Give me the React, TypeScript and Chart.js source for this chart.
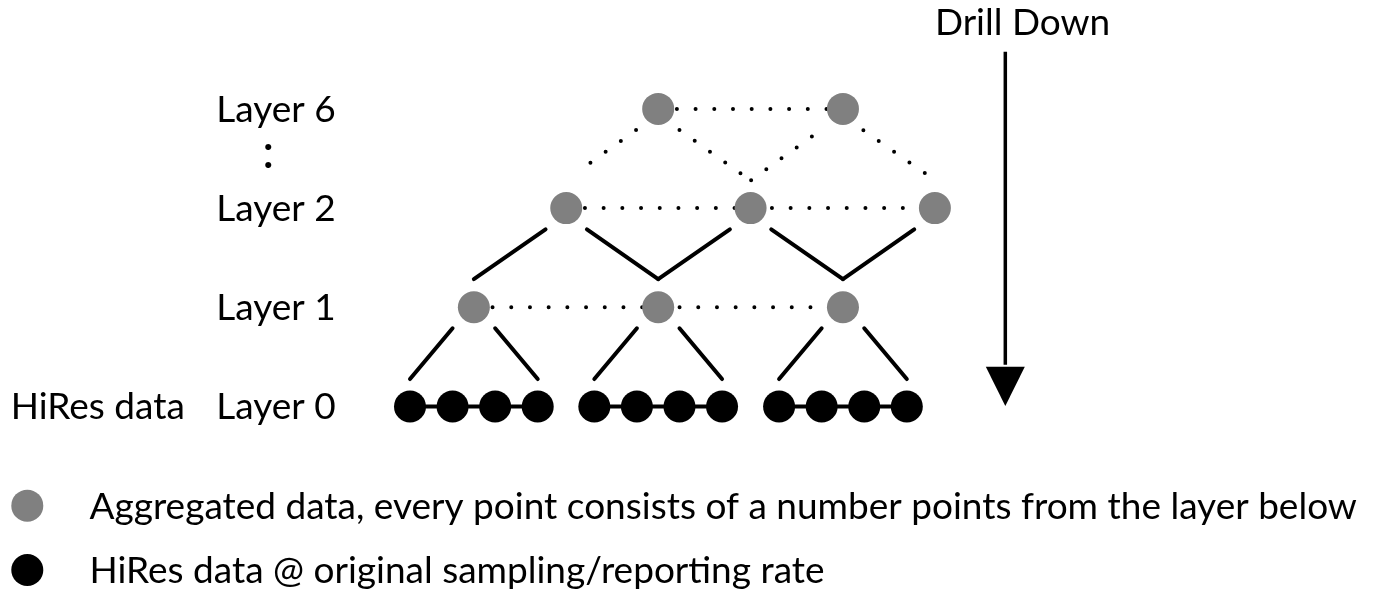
import React, { useEffect, useRef } from 'react';
import { Chart, registerables } from 'chart.js';

Chart.register(...registerables);

// ---------------- data ----------------
const LAYER_NAMES = ['Layer 0', 'Layer 1', 'Layer 2', 'Layer 6'];
const LAYER_ROWS = [0, 1, 2, 3];
const HIRES_LABEL = 'HiRes data';
const TITLE = 'Drill Down';
const HIRES_GROUP_1 = [0, 1, 2, 3];
const HIRES_GROUP_2 = [4.33, 5.33, 6.33, 7.33];
const HIRES_GROUP_3 = [8.67, 9.67, 10.67, 11.67];
const LAYER1_X = [1.5, 5.83, 10.17];
const LAYER2_X = [3.67, 8.0, 12.33];
const LAYER6_X = [5.83, 10.17];
const LEGEND_LABELS = [
  'Aggregated data, every point consists of a number points from the layer below',
  'HiRes data @ original sampling/reporting rate',
];

// ---------------- layout / style ----------------
const W = 1375;
const H = 589;
const X_MIN = -9.631;
const X_MAX = 22.668;
const Y_MIN = -1.84;
const Y_MAX = 4.098;
const GRAY = '#808080';
const FONT = 'Lato, "Open Sans", sans-serif';
const FONT_SIZE = 37;
const NODE_R = 16;
const DOT_GAP = 18.7;

const ARROW_X = 13.984;
const ARROW_TOP = 3.577;
const HEAD_BASE = 0.401;
const HEAD_TIP = 0.005;
const HEAD_HALF = 19.5;

const LEGEND_X = -8.99;
const LEGEND_ROWS = [-1.0, -1.648];

const seg = (a: number[], b: number[]) => [
  { x: a[0], y: a[1] },
  { x: b[0], y: b[1] },
];

function buildDatasets() {
  const ds: any[] = [];
  const hiresGroups = [HIRES_GROUP_1, HIRES_GROUP_2, HIRES_GROUP_3];

  // gray aggregated nodes (top)
  const grayLayers = [
    { xs: LAYER1_X, row: LAYER_ROWS[1] },
    { xs: LAYER2_X, row: LAYER_ROWS[2] },
    { xs: LAYER6_X, row: LAYER_ROWS[3] },
  ];
  grayLayers.forEach((l) =>
    ds.push({
      data: l.xs.map((x) => ({ x, y: l.row })),
      showLine: false,
      pointRadius: NODE_R,
      pointBackgroundColor: GRAY,
      pointBorderWidth: 0,
      order: 0,
    })
  );

  // hires groups with connecting line
  hiresGroups.forEach((g) =>
    ds.push({
      data: g.map((x) => ({ x, y: LAYER_ROWS[0] })),
      showLine: true,
      borderColor: '#000',
      borderWidth: 4,
      pointRadius: NODE_R,
      pointBackgroundColor: '#000',
      pointBorderWidth: 0,
      order: 0,
    })
  );

  // legend markers
  ds.push({
    data: [{ x: LEGEND_X, y: LEGEND_ROWS[0] }],
    showLine: false,
    pointRadius: NODE_R,
    pointBackgroundColor: GRAY,
    pointBorderWidth: 0,
    order: 0,
  });
  ds.push({
    data: [{ x: LEGEND_X, y: LEGEND_ROWS[1] }],
    showLine: false,
    pointRadius: NODE_R,
    pointBackgroundColor: '#000',
    pointBorderWidth: 0,
    order: 0,
  });

  const solid = (data: any[]) =>
    ds.push({
      data,
      showLine: true,
      borderColor: '#000',
      borderWidth: 4,
      borderCapStyle: 'round',
      pointRadius: 0,
      order: 1,
    });
  const dotted = (data: any[]) =>
    ds.push({
      data,
      showLine: true,
      borderColor: '#000',
      borderWidth: 4,
      borderCapStyle: 'round',
      borderDash: [0, DOT_GAP],
      pointRadius: 0,
      order: 1,
    });

  // layer 1 -> layer 0 arms
  const A0_LOW = LAYER_ROWS[0] + 0.277;
  const A0_HIGH = LAYER_ROWS[0] + 0.788;
  hiresGroups.forEach((g) => {
    solid(seg([g[0], A0_LOW], [g[1], A0_HIGH]));
    solid(seg([g[2], A0_HIGH], [g[3], A0_LOW]));
  });

  // layer 2 -> layer 1 arms
  const A1_LOW = LAYER_ROWS[0] + 1.285;
  const A1_HIGH = LAYER_ROWS[0] + 1.786;
  const INSET = 0.486;
  LAYER2_X.forEach((x, j) => {
    solid(seg([LAYER1_X[j], A1_LOW], [x - INSET, A1_HIGH]));
    if (j + 1 < LAYER1_X.length) solid(seg([x + INSET, A1_HIGH], [LAYER1_X[j + 1], A1_LOW]));
  });

  // horizontal dotted links
  dotted(LAYER1_X.map((x) => ({ x, y: LAYER_ROWS[1] })));
  dotted(LAYER2_X.map((x) => ({ x, y: LAYER_ROWS[2] })));
  dotted(LAYER6_X.map((x) => ({ x, y: LAYER_ROWS[3] })));

  // layer 6 -> layer 2 dotted diagonals
  dotted(seg([LAYER6_X[0] - 0.52, 2.787], [LAYER2_X[0] + 0.22, 2.351]));
  dotted(seg([LAYER6_X[0] + 0.5, 2.787], [LAYER2_X[1], 2.278]));
  dotted(seg([LAYER6_X[1] - 0.73, 2.722], [LAYER2_X[1], 2.278]));
  dotted(seg([LAYER6_X[1] + 0.48, 2.784], [LAYER2_X[2] - 0.23, 2.351]));

  // arrow shaft
  ds.push({
    data: seg([ARROW_X, ARROW_TOP], [ARROW_X, HEAD_BASE + 0.02]),
    showLine: true,
    borderColor: '#000',
    borderWidth: 3.5,
    borderCapStyle: 'butt',
    pointRadius: 0,
    order: 1,
  });
  return ds;
}

const textPlugin = {
  id: 'diagramText',
  afterDatasetsDraw(chart: any) {
    const { ctx } = chart;
    const xs = chart.scales.x;
    const ys = chart.scales.y;
    const px = (v: number) => xs.getPixelForValue(v);
    const py = (v: number) => ys.getPixelForValue(v);
    ctx.save();
    // arrow head
    const ax = px(ARROW_X);
    ctx.beginPath();
    ctx.moveTo(ax - HEAD_HALF, py(HEAD_BASE));
    ctx.lineTo(ax + HEAD_HALF, py(HEAD_BASE));
    ctx.lineTo(ax, py(HEAD_TIP));
    ctx.closePath();
    ctx.fillStyle = '#000';
    ctx.fill();

    ctx.font = `${FONT_SIZE}px ${FONT}`;
    ctx.textAlign = 'left';
    ctx.textBaseline = 'alphabetic';
    ctx.fillStyle = '#000';
    const LABEL_X = -4.55;
    const BASE_OFF = 13;
    LAYER_NAMES.forEach((name, i) => {
      ctx.fillText(name, px(LABEL_X), py(LAYER_ROWS[i]) + BASE_OFF);
    });
    ctx.fillText(HIRES_LABEL, px(-9.38), py(LAYER_ROWS[0]) + BASE_OFF);
    ctx.fillText(TITLE, px(12.33), py(3.745));
    LEGEND_LABELS.forEach((t, i) => {
      ctx.fillText(t, px(-7.53), py(LEGEND_ROWS[i]) + BASE_OFF);
    });
    // vertical ellipsis between Layer 2 and Layer 6
    ctx.textAlign = 'center';
    ctx.font = `48px ${FONT}`;
    ctx.fillText(':', px(-3.329), py(2.535) + 12.5);
    ctx.restore();
  },
};

export default function App() {
  const ref = useRef<HTMLCanvasElement | null>(null);
  useEffect(() => {
    if (!ref.current) return;
    const chart = new Chart(ref.current, {
      type: 'scatter',
      data: { datasets: buildDatasets() },
      options: {
        animation: false,
        responsive: false,
        events: [],
        layout: { padding: 0, autoPadding: false },
        scales: {
          x: { type: 'linear', min: X_MIN, max: X_MAX, display: false },
          y: { type: 'linear', min: Y_MIN, max: Y_MAX, display: false },
        },
        plugins: { legend: { display: false }, tooltip: { enabled: false } },
      },
      plugins: [textPlugin],
    });
    return () => chart.destroy();
  }, []);
  return (
    <div style={{ position: 'fixed', left: 0, top: 0, width: W, height: H, background: '#fff' }}>
      <canvas ref={ref} width={W} height={H} style={{ width: W, height: H, display: 'block' }} />
    </div>
  );
}
